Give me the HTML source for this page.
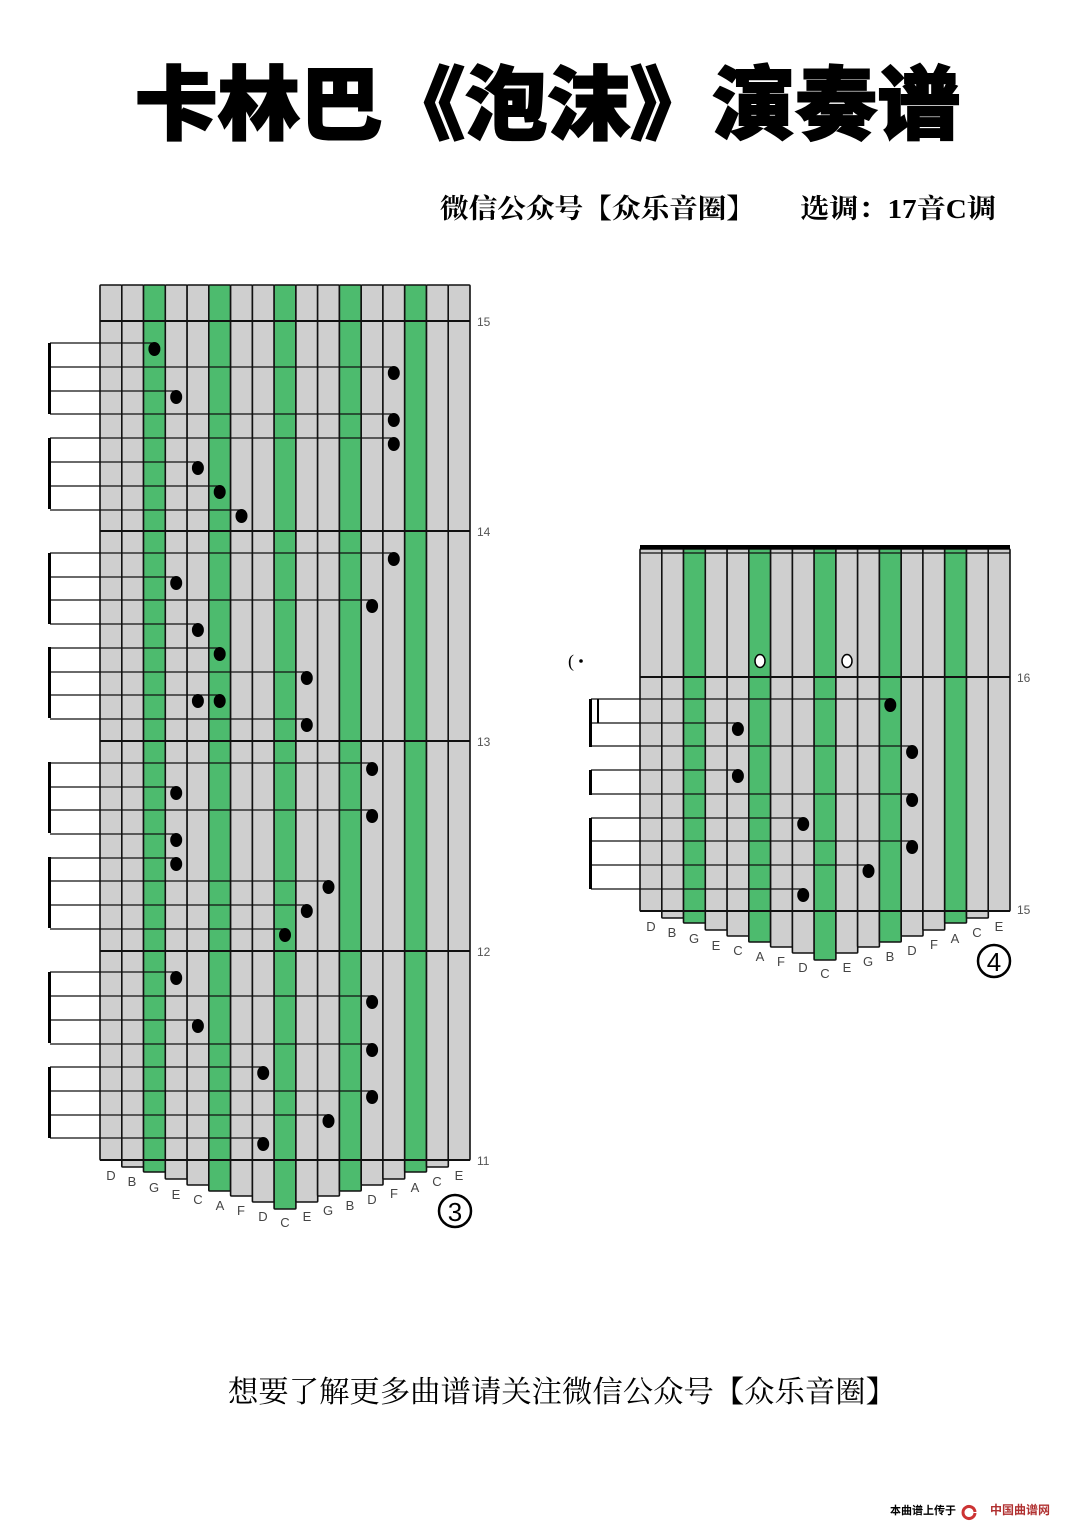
<!DOCTYPE html>
<html><head><meta charset="utf-8"><style>
html,body{margin:0;padding:0;background:#fff;width:1080px;height:1527px;overflow:hidden}
svg{display:block}
.t{font-family:"Liberation Sans","Noto Sans CJK SC",sans-serif}
.s{font-family:"Liberation Serif","Noto Serif CJK SC",serif}
</style></head><body>
<svg id="sv" width="1080" height="1527" viewBox="0 0 1080 1527" xmlns="http://www.w3.org/2000/svg">
<g id="shapes"></g>
<text x="135" y="133" class="t" font-size="80" font-weight="900" textLength="825" lengthAdjust="spacingAndGlyphs" stroke="#000" stroke-width="2">卡林巴《泡沫》演奏谱</text>
<text x="440" y="218" class="s" font-size="27" font-weight="bold" textLength="315" lengthAdjust="spacingAndGlyphs">微信公众号【众乐音圈】</text>
<text x="800" y="218" class="s" font-size="27" font-weight="bold" textLength="196" lengthAdjust="spacingAndGlyphs">选调：17音C调</text>
<text x="228" y="1402" class="s" font-size="30" textLength="668" lengthAdjust="spacingAndGlyphs">想要了解更多曲谱请关注微信公众号【众乐音圈】</text>
<text x="890" y="1514" class="t" font-size="11" font-weight="bold">本曲谱上传于</text>
<text x="990" y="1514" class="t" font-size="12" font-weight="bold" fill="#b03030">中国曲谱网</text>
<g class="t" font-size="12" fill="#555">
<text x="477" y="326">15</text><text x="477" y="536">14</text><text x="477" y="746">13</text><text x="477" y="956">12</text><text x="477" y="1165">11</text>
<text x="1017" y="682">16</text><text x="1017" y="914">15</text>
</g>
<g class="t" font-size="13" fill="#444" text-anchor="middle">
<text x="111" y="1180">D</text><text x="132" y="1186">B</text><text x="154" y="1192">G</text><text x="176" y="1199">E</text><text x="198" y="1204">C</text><text x="220" y="1210">A</text><text x="241" y="1215">F</text><text x="263" y="1221">D</text><text x="285" y="1227">C</text><text x="307" y="1221">E</text><text x="328" y="1215">G</text><text x="350" y="1210">B</text><text x="372" y="1204">D</text><text x="394" y="1198">F</text><text x="415" y="1192">A</text><text x="437" y="1186">C</text><text x="459" y="1180">E</text>
<text x="651" y="931">D</text><text x="672" y="937">B</text><text x="694" y="943">G</text><text x="716" y="950">E</text><text x="738" y="955">C</text><text x="760" y="961">A</text><text x="781" y="966">F</text><text x="803" y="972">D</text><text x="825" y="978">C</text><text x="847" y="972">E</text><text x="868" y="966">G</text><text x="890" y="961">B</text><text x="912" y="955">D</text><text x="934" y="949">F</text><text x="955" y="943">A</text><text x="977" y="937">C</text><text x="999" y="931">E</text>
</g>
<circle cx="455" cy="1211" r="16" fill="none" stroke="#000" stroke-width="2.5"/>
<text x="455" y="1221" class="t" font-size="26" text-anchor="middle">3</text>
<circle cx="994" cy="961" r="16" fill="none" stroke="#000" stroke-width="2.5"/>
<text x="994" y="971" class="t" font-size="26" text-anchor="middle">4</text>
<text x="568" y="667" class="s" font-size="18">(</text>
<circle cx="581" cy="661" r="1.8" fill="#000"/>
</svg>
<script>
(function(){
var g=document.getElementById('shapes'),h='';
var W=370/17,off=[0,7,12,19,25,31,36,42,49,42,36,31,25,19,12,7,0],green=[2,5,8,11,14];
function board(x0,top,bot,bars){
 for(var i=0;i<17;i++){
  var x=x0+i*W,f=green.indexOf(i)>=0?'#4dbb6e':'#cfcfcf';
  h+='<rect x="'+x.toFixed(1)+'" y="'+top+'" width="'+W.toFixed(1)+'" height="'+(bot+off[i]-top)+'" rx="1" fill="'+f+'" stroke="#111" stroke-width="1.6"/>';
 }
 bars.forEach(function(y){h+='<line x1="'+x0+'" x2="'+(x0+370)+'" y1="'+y+'" y2="'+y+'" stroke="#111" stroke-width="2"/>';});
}
function notes(x0,list){
 list.forEach(function(n){
  var y=n[0];
  var maxc=Math.max.apply(null,n.slice(1)),cx=x0+W*(maxc+0.5);
  h+='<line x1="'+(x0===100?50:591)+'" x2="'+cx.toFixed(1)+'" y1="'+(y-6)+'" y2="'+(y-6)+'" stroke="#111" stroke-width="1.2"/>';
  for(var k=1;k<n.length;k++){var c=x0+W*(n[k]+0.5);h+='<ellipse cx="'+c.toFixed(1)+'" cy="'+y+'" rx="6" ry="7" fill="#000"/>';}
 });
}
board(100,285,1160,[321,531,741,951,1160]);
notes(100,[[349,2],[373,13],[397,3],[420,13],[444,13],[468,4],[492,5],[516,6],
[559,13],[583,3],[606,12],[630,4],[654,5],[678,9],[701,4,5],[725,9],
[769,12],[793,3],[816,12],[840,3],[864,3],[887,10],[911,9],[935,8],
[978,3],[1002,12],[1026,4],[1050,12],[1073,7],[1097,12],[1121,10],[1144,7]]);
[343,438,553,647,762,857,972,1067].forEach(function(y){h+='<rect x="48" y="'+y+'" width="3" height="71" fill="#000"/>';});
board(640,549,911,[677,911]);
h+='<rect x="640" y="545" width="370" height="4" fill="#000"/><line x1="640" x2="1010" y1="553" y2="553" stroke="#111" stroke-width="1.2"/>';
notes(640,[[705,11],[729,4],[752,12],[776,4],[800,12],[824,7],[847,12],[871,10],[895,7]]);
[[760,661],[847,661]].forEach(function(p){h+='<ellipse cx="'+p[0]+'" cy="'+p[1]+'" rx="5" ry="6.5" fill="#fff" stroke="#000" stroke-width="1.5"/>';});
h+='<rect x="589" y="699" width="3" height="48" fill="#000"/><rect x="597" y="699" width="2" height="24" fill="#000"/>';
h+='<rect x="589" y="770" width="3" height="25" fill="#000"/><rect x="589" y="818" width="3" height="71" fill="#000"/>';
h+='<path d="M975 1513 a6 6 0 1 1 0 -1" fill="none" stroke="#c33" stroke-width="3"/>';
g.innerHTML=h;
})();
</script>
</body></html>
